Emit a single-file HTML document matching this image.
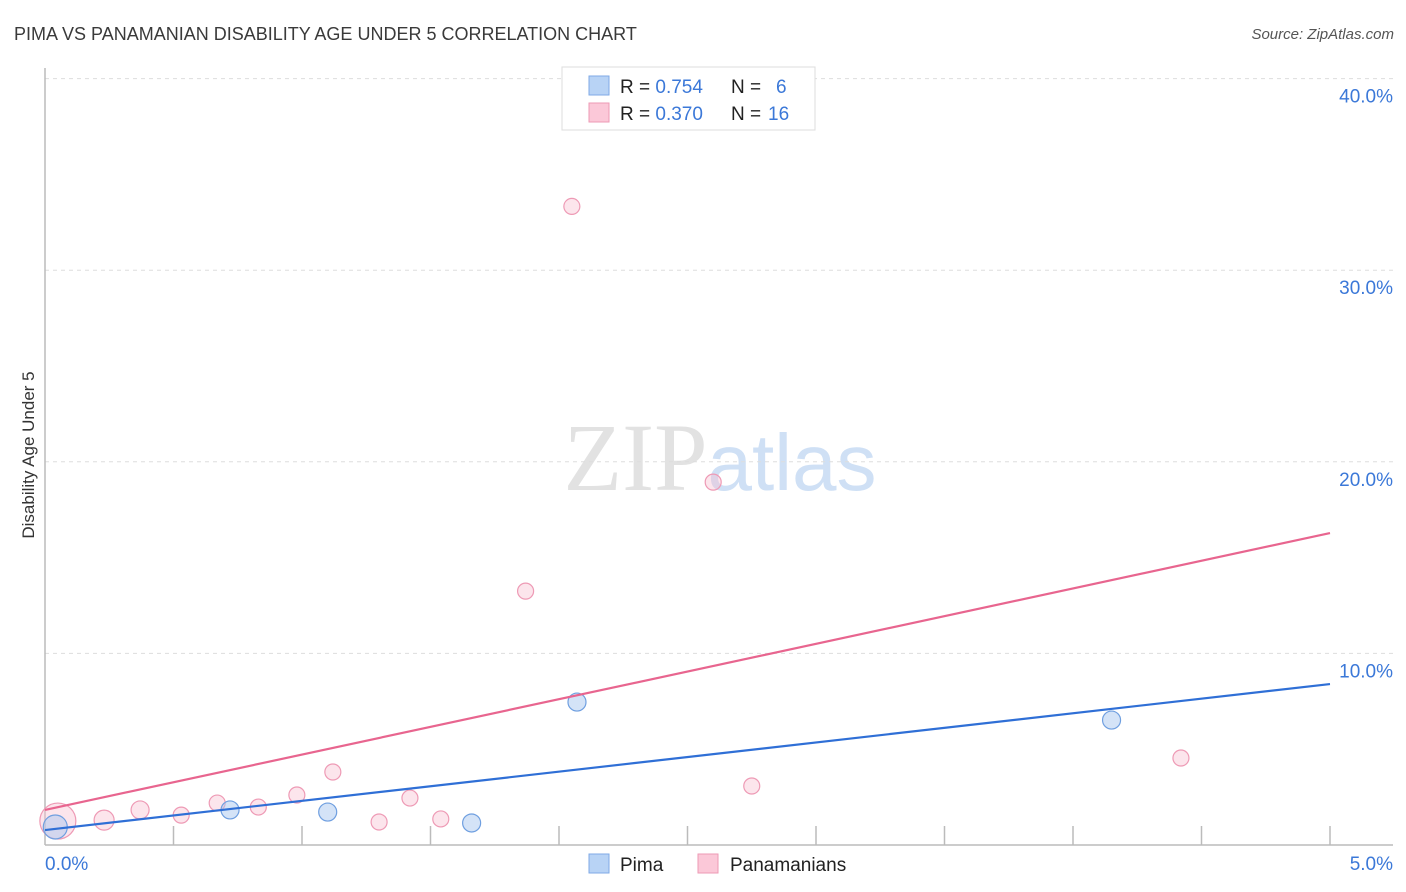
<!DOCTYPE html>
<html><head><meta charset="utf-8"><style>
body{margin:0;background:#fff;font-family:"Liberation Sans",sans-serif;}
</style></head><body>
<svg id="chart" width="1406" height="892" xmlns="http://www.w3.org/2000/svg" style="display:block">
<text x="14" y="40" font-size="18" fill="#3a3a3a">PIMA VS PANAMANIAN DISABILITY AGE UNDER 5 CORRELATION CHART</text>
<text x="1394" y="39" font-size="15" fill="#555" font-style="italic" text-anchor="end">Source: ZipAtlas.com</text>
<text x="720" y="490" font-size="96" text-anchor="middle" font-family="Liberation Serif,serif" fill="#e2e2e2">ZIP<tspan fill="#cfe0f5" font-family="Liberation Sans,sans-serif" font-size="80">atlas</tspan></text>
<text transform="translate(34,455) rotate(-90)" font-size="17" fill="#333" text-anchor="middle">Disability Age Under 5</text>
<g id="grid"></g><g id="axes"></g><g id="points"></g><g id="lines"></g>
<g>
<rect x="562" y="67" width="253" height="63" fill="#fff" stroke="#ddd"/>
<rect x="589" y="76" width="20" height="19" fill="#b8d3f5" stroke="#7fa9e6"/>
<rect x="589" y="103" width="20" height="19" fill="#fbc8d8" stroke="#ee9ab5"/>
<text x="620" y="93" font-size="19" fill="#222">R = <tspan fill="#3b78d8">0.754</tspan><tspan x="731">N = </tspan><tspan x="776" fill="#3b78d8">6</tspan></text>
<text x="620" y="120" font-size="19" fill="#222">R = <tspan fill="#3b78d8">0.370</tspan><tspan x="731">N = </tspan><tspan x="768" fill="#3b78d8">16</tspan></text>
</g>
<g>
<rect x="589" y="854" width="20" height="19" fill="#b8d3f5" stroke="#7fa9e6"/>
<text x="620" y="871" font-size="19" fill="#222">Pima</text>
<rect x="698" y="854" width="20" height="19" fill="#fbc8d8" stroke="#ee9ab5"/>
<text x="730" y="871" font-size="19" fill="#222">Panamanians</text>
</g>
</svg>
<script>
const yTicks=[10,20,30,40];
const yTickLabels=["10.0%","20.0%","30.0%","40.0%"];
const xTickLabels=["0.0%","5.0%"];
const pimaX=[0.04,0.72,1.10,1.66,2.07,4.15];
const pimaY=[0.94,1.83,1.72,1.15,7.46,6.52];
const pimaR=[12,9,9,9,9,9];
const panX=[0.05,0.23,0.37,0.53,0.67,0.83,0.98,1.12,1.30,1.42,1.54,1.87,2.05,2.60,2.75,4.42];
const panY=[1.25,1.30,1.83,1.56,2.19,1.98,2.61,3.81,1.20,2.45,1.36,13.25,33.33,18.94,3.08,4.54];
const panR=[18,10,9,8,8,8,8,8,8,8,8,8,8,8,8,8];
const pimaLine=[0.78,8.40];
const panLine=[1.83,16.28];
const X0=45,X1=1330,Y0=845,PER10=191.6;
const sx=v=>X0+(X1-X0)*v/5;
const sy=v=>Y0-v*PER10/10;
const NS="http://www.w3.org/2000/svg";
function mk(t,a,p){const e=document.createElementNS(NS,t);for(const k in a)e.setAttribute(k,a[k]);p.appendChild(e);return e;}
const grid=document.getElementById('grid'),axes=document.getElementById('axes');
yTicks.forEach((t,i)=>{
 const l=mk('line',{x1:X0,x2:1393,y1:sy(t),y2:sy(t),stroke:'#ddd','stroke-dasharray':'4,4'},grid);
 
 
 const tx=mk('text',{x:1393,y:sy(t)+24,'font-size':19,fill:'#3b78d8','text-anchor':'end'},axes);
 tx.textContent=yTickLabels[i];
 
 
});
const ax=mk('line',{x1:X0,x2:1393,y1:Y0,y2:Y0,stroke:'#bbb','stroke-width':1.5},axes);


const ay=mk('line',{x1:X0,x2:X0,y1:68,y2:Y0,stroke:'#bbb','stroke-width':1.5},axes);


for(let i=1;i<=10;i++){
 const t=mk('line',{x1:sx(i*0.5),x2:sx(i*0.5),y1:826,y2:Y0,stroke:'#bbb','stroke-width':1.5},axes);
 
 
}
const xl0=mk('text',{x:45,y:870,'font-size':19,fill:'#3b78d8'},axes);xl0.textContent=xTickLabels[0];


const xl1=mk('text',{x:1393,y:870,'font-size':19,fill:'#3b78d8','text-anchor':'end'},axes);xl1.textContent=xTickLabels[1];


const pts=document.getElementById('points'),lines=document.getElementById('lines');
panX.forEach((x,i)=>{
 const c=mk('circle',{cx:sx(x),cy:sy(panY[i]),r:panR[i],fill:'rgba(248,190,208,0.4)',stroke:'#ee9ab5','stroke-width':1.2},pts);
 
 
});
pimaX.forEach((x,i)=>{
 const c=mk('circle',{cx:sx(x),cy:sy(pimaY[i]),r:pimaR[i],fill:'rgba(170,200,240,0.5)',stroke:'#6f9fe0','stroke-width':1.2},pts);
 
 
});
const pl=mk('line',{x1:sx(0),x2:sx(5),y1:sy(panLine[0]),y2:sy(panLine[1]),stroke:'#e8658f','stroke-width':2.2},lines);


const bl=mk('line',{x1:sx(0),x2:sx(5),y1:sy(pimaLine[0]),y2:sy(pimaLine[1]),stroke:'#2f6fd6','stroke-width':2.2},lines);


</script>
</body></html>
